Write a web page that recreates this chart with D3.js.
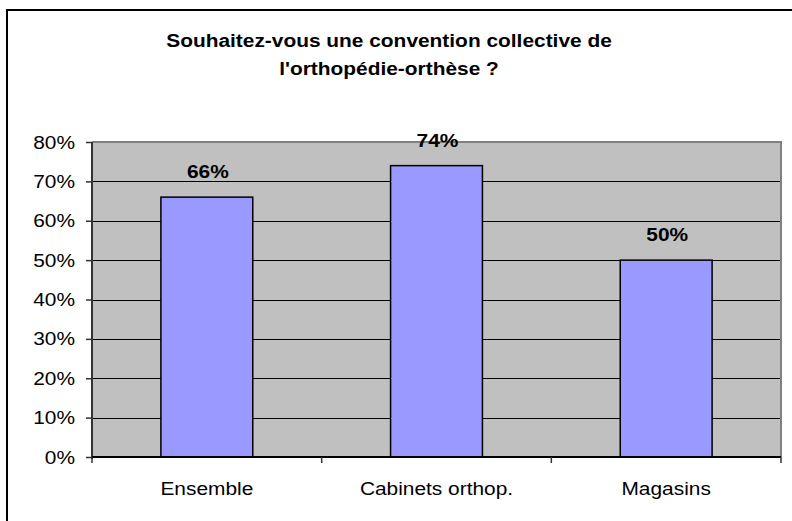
<!DOCTYPE html>
<html><head><meta charset="utf-8">
<script src="https://cdn.jsdelivr.net/npm/d3@7"></script>
<style>body{margin:0;background:#fff}svg{display:block}text{font-family:Arial,"Liberation Sans",sans-serif}</style>
</head><body>
<script>
const categories = ["Ensemble", "Cabinets orthop.", "Magasins"];
const values = [0.66, 0.74, 0.50];
const valueLabels = ["66%", "74%", "50%"];
const yTicks = [0, 0.1, 0.2, 0.3, 0.4, 0.5, 0.6, 0.7, 0.8];
const titleLines = ["Souhaitez-vous une convention collective de", "l'orthopédie-orthèse ?"];

const W = 792, H = 521, SX = 1.13, FS = 18.5;
const svg = d3.select("body").append("svg").attr("width", W).attr("height", H);

// outer frame
svg.append("rect").attr("x", 7).attr("y", 10).attr("width", 820).attr("height", 540)
  .attr("fill", "#fff").attr("stroke", "#000").attr("stroke-width", 2);

const L = 92, R = 781, T = 142, B = 457;
const x = d3.scaleBand().domain(categories).range([L, R]).paddingInner(0.6).paddingOuter(0.3);
const y = d3.scaleLinear().domain([0, 0.8]).range([B, T]);

function stext(g, tx, ty, str, opts) {
  return g.append("text")
    .attr("transform", `translate(${tx},${ty}) scale(${SX},1)`)
    .attr("text-anchor", opts.anchor || "middle")
    .attr("font-size", FS)
    .attr("font-weight", opts.bold ? "bold" : "normal")
    .attr("fill", "#000")
    .text(str);
}

// plot background
svg.append("rect").attr("x", L).attr("y", T).attr("width", R - L).attr("height", B - T).attr("fill", "#c0c0c0");

// gridlines
svg.append("g").selectAll("line").data(yTicks.filter(d => d > 0 && d < 0.8)).join("line")
  .attr("x1", L).attr("x2", R).attr("y1", d => Math.round(y(d)) + 0.5).attr("y2", d => Math.round(y(d)) + 0.5)
  .attr("stroke", "#000").attr("stroke-width", 1);

// plot border top/right
svg.append("path").attr("d", `M${L},${T}H${R}V${B}`).attr("fill", "none").attr("stroke", "#808080").attr("stroke-width", 2);

// bars
svg.append("g").selectAll("rect").data(categories).join("rect")
  .attr("x", d => x(d)).attr("width", x.bandwidth())
  .attr("y", (d, i) => y(values[i])).attr("height", (d, i) => B - y(values[i]))
  .attr("fill", "#9999ff").attr("stroke", "#000").attr("stroke-width", 1.5);

// y axis
const yAxis = d3.axisLeft(y).tickValues(yTicks).tickSize(6).tickFormat(d3.format(".0%"));
const ya = svg.append("g").attr("transform", `translate(${L},0)`).call(yAxis);
ya.select(".domain").attr("stroke", "#333").attr("stroke-width", 2).attr("d", `M0,${T}V${B + 2}`);
ya.selectAll(".tick line").attr("stroke", "#333").attr("stroke-width", 1.5);
ya.selectAll(".tick text").remove();
yTicks.forEach(t => {
  stext(svg, 75, y(t) + 6.5, d3.format(".0%")(t), {anchor: "end"});
});

// x axis
const xa = svg.append("g").attr("transform", `translate(0,${B})`);
xa.append("line").attr("x1", L).attr("x2", R).attr("y1", 0).attr("y2", 0).attr("stroke", "#000").attr("stroke-width", 2);
const step = x.step();
const bounds = d3.range(categories.length + 1).map(i => L + i * (R - L) / categories.length);
xa.selectAll("line.tk").data(bounds).join("line").attr("class", "tk")
  .attr("x1", d => d).attr("x2", d => d).attr("y1", 0).attr("y2", 6)
  .attr("stroke", "#333").attr("stroke-width", 1.5);
categories.forEach(c => {
  stext(svg, x(c) + x.bandwidth() / 2, 495, c, {});
});

// value labels
categories.forEach((c, i) => {
  stext(svg, x(c) + x.bandwidth() / 2 + 1, y(values[i]) - 19, valueLabels[i], {bold: true});
});

// title
stext(svg, 389, 47, titleLines[0], {bold: true});
stext(svg, 389, 75, titleLines[1], {bold: true});
</script>
</body></html>
